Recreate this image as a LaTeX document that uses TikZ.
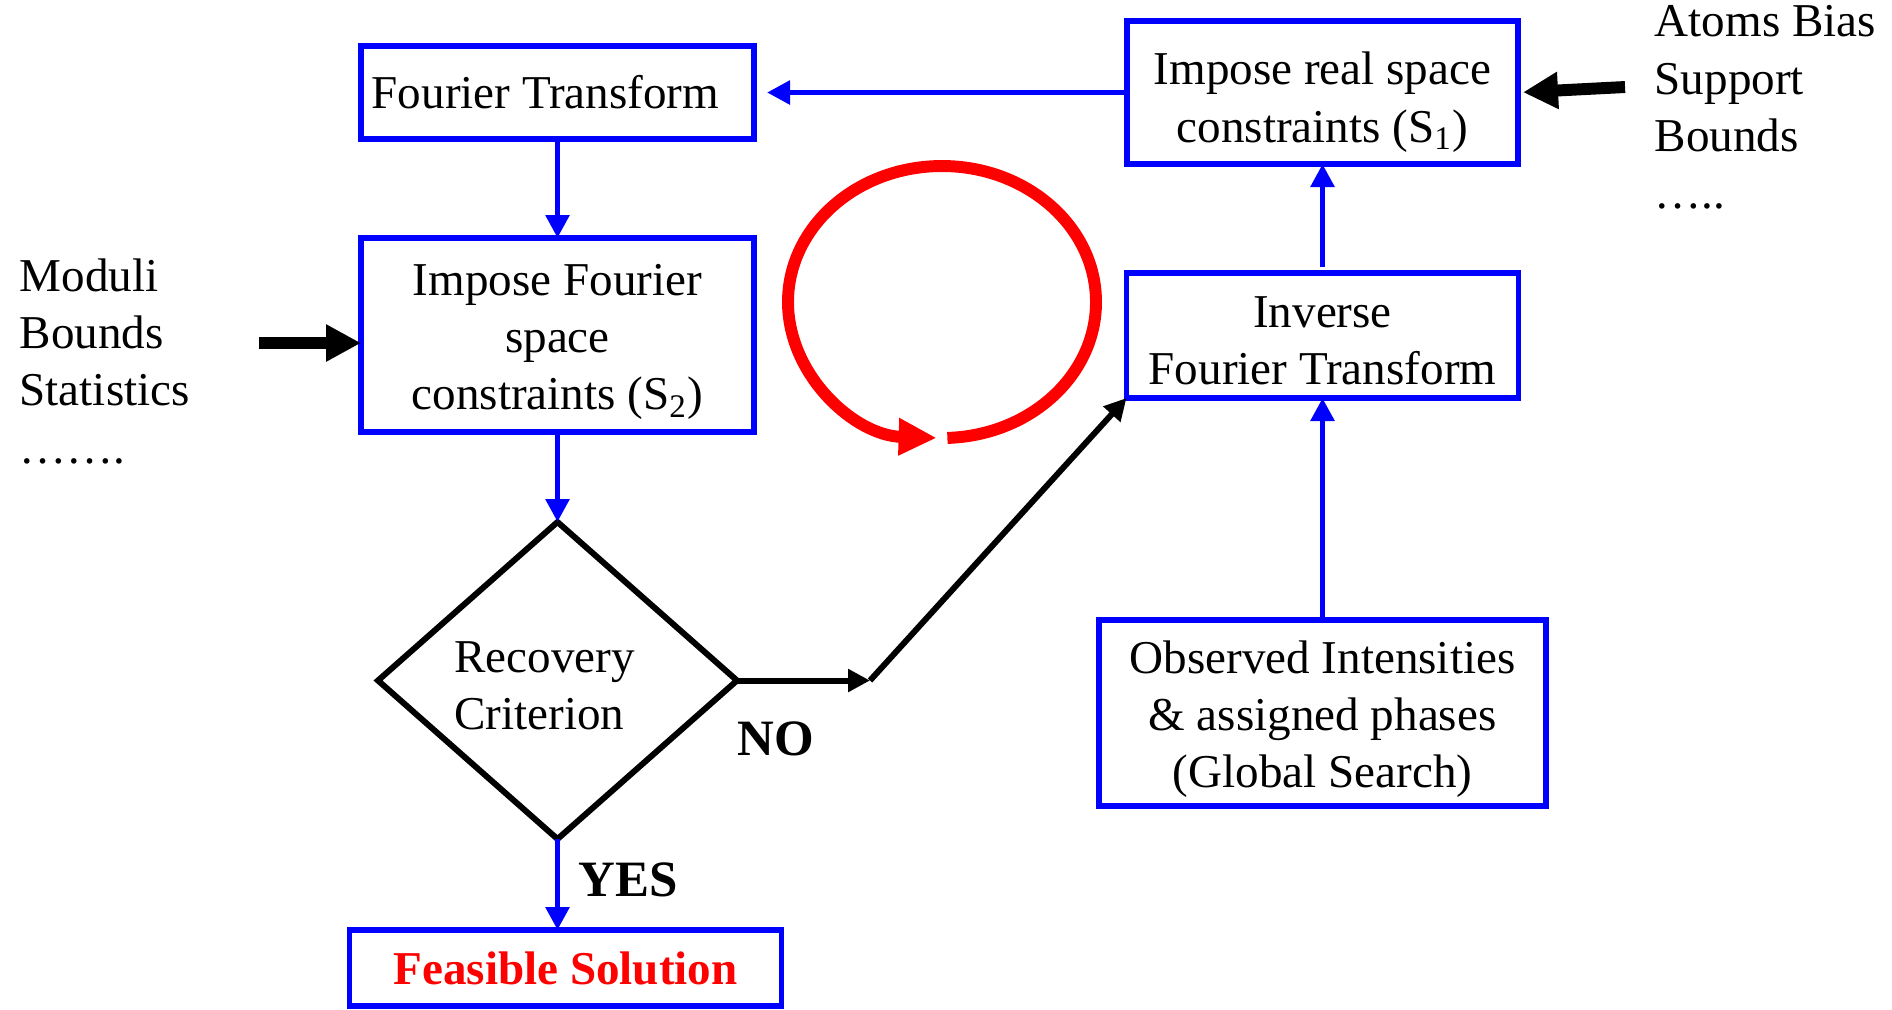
\documentclass[tikz,border=0pt]{standalone}
\usepackage{fontspec}
\setmainfont{Liberation Serif}
\usetikzlibrary{arrows.meta,positioning,shapes.geometric}
\newcommand{\padtop}[1]{\rule{0pt}{#1}}
\tikzset{box/.style={draw=blue,line width=1.6pt,align=center,inner sep=0pt,outer sep=0pt,font=\fontsize{13.4}{16.3}\selectfont},
 goal/.style={box,text=red,font=\fontsize{13.4}{16.3}\selectfont\bfseries},
 decide/.style={diamond,draw,line width=1.7pt,align=left,inner sep=0pt,outer sep=0pt,minimum width=3.59cm,minimum height=3.17cm,font=\fontsize{13.4}{16.3}\selectfont},
 side/.style={align=left,inner sep=0pt,anchor=north west,font=\fontsize{13.4}{16.3}\selectfont},
 tag/.style={inner sep=0pt,font=\fontsize{14.5}{17}\selectfont\bfseries},
 blueflow/.style={-{Triangle[length=2.3mm,width=2.3mm]},draw=blue,line width=1.6pt},
 blackflow/.style={-{Triangle[length=2.2mm,width=2.2mm]},line width=1.7pt},
 bigarrow/.style={-{Triangle[length=3.5mm,width=3.5mm]},line width=3.4pt},
 redloop/.style={-{Triangle[length=3.8mm,width=3.5mm]},draw=red,line width=3.4pt}}
\begin{document}
\begin{tikzpicture}[node distance=9.9mm and 37.3mm]
\useasboundingbox (0,0) rectangle (18.92,-10.09);
\node[box,minimum width=3.93cm,minimum height=0.93cm] (ft) at (5.575,-0.925) {Fourier Transform\hspace*{0.24cm}};
\node[box,minimum width=3.93cm,minimum height=1.94cm,below=of ft] (ifs) {\padtop{0.45cm}Impose Fourier\\space\\constraints (S\textsubscript{2})};
\node[decide,below=9mm of ifs] (crit) {\padtop{0.42cm}Recovery\hspace*{0.26cm}\\Criterion};
\node[goal,minimum width=4.32cm,minimum height=0.76cm,below=9.1mm of crit,xshift=0.8mm] (sol) {Feasible Solution};
\node[box,minimum width=3.91cm,minimum height=1.43cm,right=of ft] (rs) {\padtop{0.52cm}Impose real space\\constraints (S\textsubscript{1})};
\node[box,minimum width=3.92cm,minimum height=1.25cm,below=10.9mm of rs] (ift) {\padtop{0.42cm}Inverse\\Fourier Transform};
\node[box,minimum width=4.47cm,minimum height=1.86cm,below=22.2mm of ift] (obs) {\padtop{0.45cm}Observed Intensities\\ \& assigned phases\\(Global Search)};
\node[side] (mod) at (0.19,-2.58) {Moduli\\Bounds\\Statistics\\…….};
\node[side] (atoms) at (16.54,-0.05) {Atoms Bias\\Support\\Bounds\\…..};
\node[tag,below right=4.1mm and 0mm of crit.east] (no) {NO};
\node[tag,below right=2.3mm and 2mm of crit.south] (yes) {YES};
\coordinate[right=1.33cm of crit.east] (bend);
\coordinate (modin) at (2.59,-3.43);
\coordinate (atin) at (16.25,-0.87);
\coordinate (loopc) at (9.42,-3.02);

\draw[blueflow] (ft) -- (ifs);
\draw[blueflow] (ifs) -- (crit);
\draw[blueflow] (crit.south) -- (crit.south |- sol.north);
\draw[blueflow,shorten >=1.3mm] (rs) -- (ft);
\draw[blueflow,shorten <=0.6mm] (ift) -- (rs);
\draw[blueflow] (ift.south |- obs.north) -- (ift.south);
\draw[blackflow] (crit.east) -- (bend);
\draw[blackflow] (bend) -- (ift.south west);
\draw[bigarrow] (modin) -- (modin -| ifs.west);
\draw[bigarrow,shorten >=0.5mm] (atin) -- (rs.east);
\draw[redloop] ([shift={(-88:1.54 and 1.36)}]loopc) arc[start angle=-88,end angle=268,x radius=1.54,y radius=1.36];
\end{tikzpicture}
\end{document}
